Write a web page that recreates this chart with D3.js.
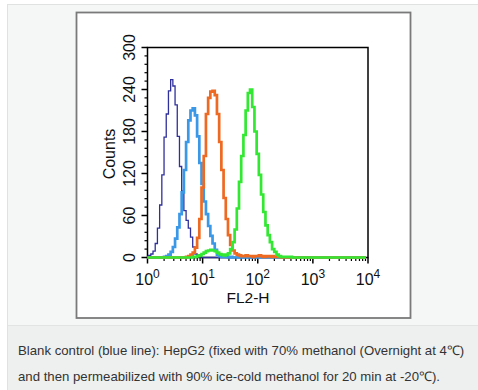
<!DOCTYPE html>
<html>
<head>
<meta charset="utf-8">
<script src="https://cdn.jsdelivr.net/npm/d3@7"></script>
<style>
  html, body { margin: 0; padding: 0; background: #ffffff; }
  svg { display: block; }
</style>
</head>
<body>
<script>
// ---------------- data ----------------
// histogram bins: log10(FL2-H) channel centres, 0.04 decade wide
const binLog = d3.range(0, 100).map(k => k * 0.04);

const navyCounts = [2,3,5,9,20,42,75,118,172,205,238,254,245,218,173,130,95,67,53,42,29,15,5,2,1];

const blueCounts = [0,0,0,0,0,0,0,0,1,2,4,8,15,27,43,62,93,125,165,196,210,213,203,173,135,105,80,62,45,31,20,11,4,2,1,1,1,0,1];

const orangeCounts = [0,0,0,0,0,0,0,0,0,0,0,0,0,0,0,0,0,0,
  1,2,4,7,14,28,55,100,145,205,228,237,238,232,205,165,125,85,55,32,18,10,6,4,3,2,2,3,2,2,1,2,2,3,2,1,2,2,1,2,1,1,1];

const greenCounts = [0,0,0,0,0,0,0,0,0,0,0,0,0,0,0,0,0,0,0,0,0,
  1,1,2,3,5,7,9,10,11,10,9,7,5,4,3,4,6,12,22,40,70,108,145,175,210,235,240,215,180,148,118,90,65,46,32,22,12,8,4,2,1,1,1,1,1];

const seriesNames = ["Blank control", "Isotype control", "Antibody 1", "Antibody 2"];
const seriesCounts = [navyCounts, blueCounts, orangeCounts, greenCounts];

const yTickValues = [0, 60, 120, 180, 240, 300];
const xMajorExponents = [0, 1, 2, 3, 4];
const yAxisTitle = "Counts";
const xAxisTitle = "FL2-H";
const captionLines = [
  "Blank control (blue line): HepG2 (fixed with 70% methanol (Overnight at 4℃)",
  "and then permeabilized with 90% ice-cold methanol for 20 min at -20℃)."
];

// ---------------- styles ----------------
const seriesColors = ["#30309c", "#3a98e6", "#ee6a22", "#33e833"];
const seriesWidths = [1.3, 2.7, 2.7, 2.7];
const FONT = "'Liberation Sans', Arial, Helvetica, sans-serif";

const W = 478, H = 390;
const svg = d3.select("body").append("svg").attr("width", W).attr("height", H);

// outer panel
svg.append("rect").attr("x", 7.5).attr("y", 4.5).attr("width", W).attr("height", H)
  .attr("fill", "#f5f6f6").attr("stroke", "#e0e2e2").attr("stroke-width", 1);
// caption area
svg.append("rect").attr("x", 8).attr("y", 325).attr("width", W).attr("height", H - 325)
  .attr("fill", "#eef0f0");
svg.append("line").attr("x1", 8).attr("x2", W).attr("y1", 325.5).attr("y2", 325.5)
  .attr("stroke", "#e2e4e4");

// inner white box
svg.append("rect").attr("x", 76.5).attr("y", 12.5).attr("width", 334).attr("height", 305.5)
  .attr("fill", "#ffffff").attr("stroke", "#7a7a7a").attr("stroke-width", 1.8);

// plot area
const plot = { left: 147.5, right: 368, top: 47.5, bottom: 257.5 };
const x = d3.scaleLog().domain([1, 1e4]).range([plot.left, plot.right]);
const y = d3.scaleLinear().domain([0, 300]).range([plot.bottom, plot.top]);

const g = svg.append("g");

// frame
g.append("rect").attr("x", plot.left).attr("y", plot.top)
  .attr("width", plot.right - plot.left).attr("height", plot.bottom - plot.top)
  .attr("fill", "none").attr("stroke", "#000").attr("stroke-width", 1.5);

// y ticks (minor every 12)
const yMinor = d3.range(0, 301, 12).filter(v => yTickValues.indexOf(v) < 0);
g.selectAll(".ymin").data(yMinor).join("line")
  .attr("x1", plot.left - 3).attr("x2", plot.left)
  .attr("y1", d => y(d)).attr("y2", d => y(d))
  .attr("stroke", "#000").attr("stroke-width", 1.2);
g.selectAll(".ymaj").data(yTickValues).join("line")
  .attr("x1", plot.left - 6).attr("x2", plot.left)
  .attr("y1", d => y(d)).attr("y2", d => y(d))
  .attr("stroke", "#000").attr("stroke-width", 1.5);
g.selectAll(".ylab").data(yTickValues).join("text")
  .attr("transform", d => `translate(${plot.left - 13},${y(d)}) rotate(-90)`)
  .attr("text-anchor", "middle")
  .attr("font-family", FONT).attr("font-size", 16).attr("fill", "#111")
  .text(d => d);

// x ticks
const xMinor = [];
for (let e = 0; e < 4; e++) for (let m = 2; m <= 9; m++) xMinor.push(m * Math.pow(10, e));
g.selectAll(".xmin").data(xMinor).join("line")
  .attr("x1", d => x(d)).attr("x2", d => x(d))
  .attr("y1", plot.bottom).attr("y2", plot.bottom + 3.5)
  .attr("stroke", "#000").attr("stroke-width", 1.2);
g.selectAll(".xmaj").data(xMajorExponents).join("line")
  .attr("x1", d => x(Math.pow(10, d))).attr("x2", d => x(Math.pow(10, d)))
  .attr("y1", plot.bottom).attr("y2", plot.bottom + 6)
  .attr("stroke", "#000").attr("stroke-width", 1.5);
const xl = g.selectAll(".xlab").data(xMajorExponents).join("text")
  .attr("x", d => x(Math.pow(10, d)))
  .attr("y", 285)
  .attr("text-anchor", "middle")
  .attr("font-family", FONT).attr("font-size", 16).attr("fill", "#111");
xl.append("tspan").text("10");
xl.append("tspan").attr("dy", -7).attr("font-size", 12).text(d => d);

// axis titles
g.append("text")
  .attr("transform", `translate(${115},${154}) rotate(-90)`)
  .attr("text-anchor", "middle")
  .attr("font-family", FONT).attr("font-size", 16).attr("fill", "#111")
  .text(yAxisTitle);
g.append("text")
  .attr("x", 248).attr("y", 303)
  .attr("text-anchor", "middle")
  .attr("font-family", FONT).attr("font-size", 15.5).attr("fill", "#111")
  .text(xAxisTitle);

// histograms
const line = d3.line()
  .x(d => x(Math.pow(10, d[0])))
  .y(d => y(d[1]))
  .curve(d3.curveStep);

seriesCounts.forEach((counts, i) => {
  const pts = binLog.map((b, k) => [b, k < counts.length ? counts[k] : 0]);
  g.append("path")
    .datum(pts)
    .attr("d", line)
    .attr("fill", "none")
    .attr("stroke", seriesColors[i])
    .attr("stroke-width", seriesWidths[i])
    .attr("stroke-linejoin", "miter")
    .attr("class", "series-" + seriesNames[i].replace(/\s+/g, "-"));
});

// caption
svg.selectAll(".cap").data(captionLines).join("text")
  .attr("x", 18).attr("y", (d, i) => 355 + i * 26)
  .attr("font-family", FONT).attr("font-size", 13.2).attr("fill", "#333")
  .text(d => d);
</script>
</body>
</html>
